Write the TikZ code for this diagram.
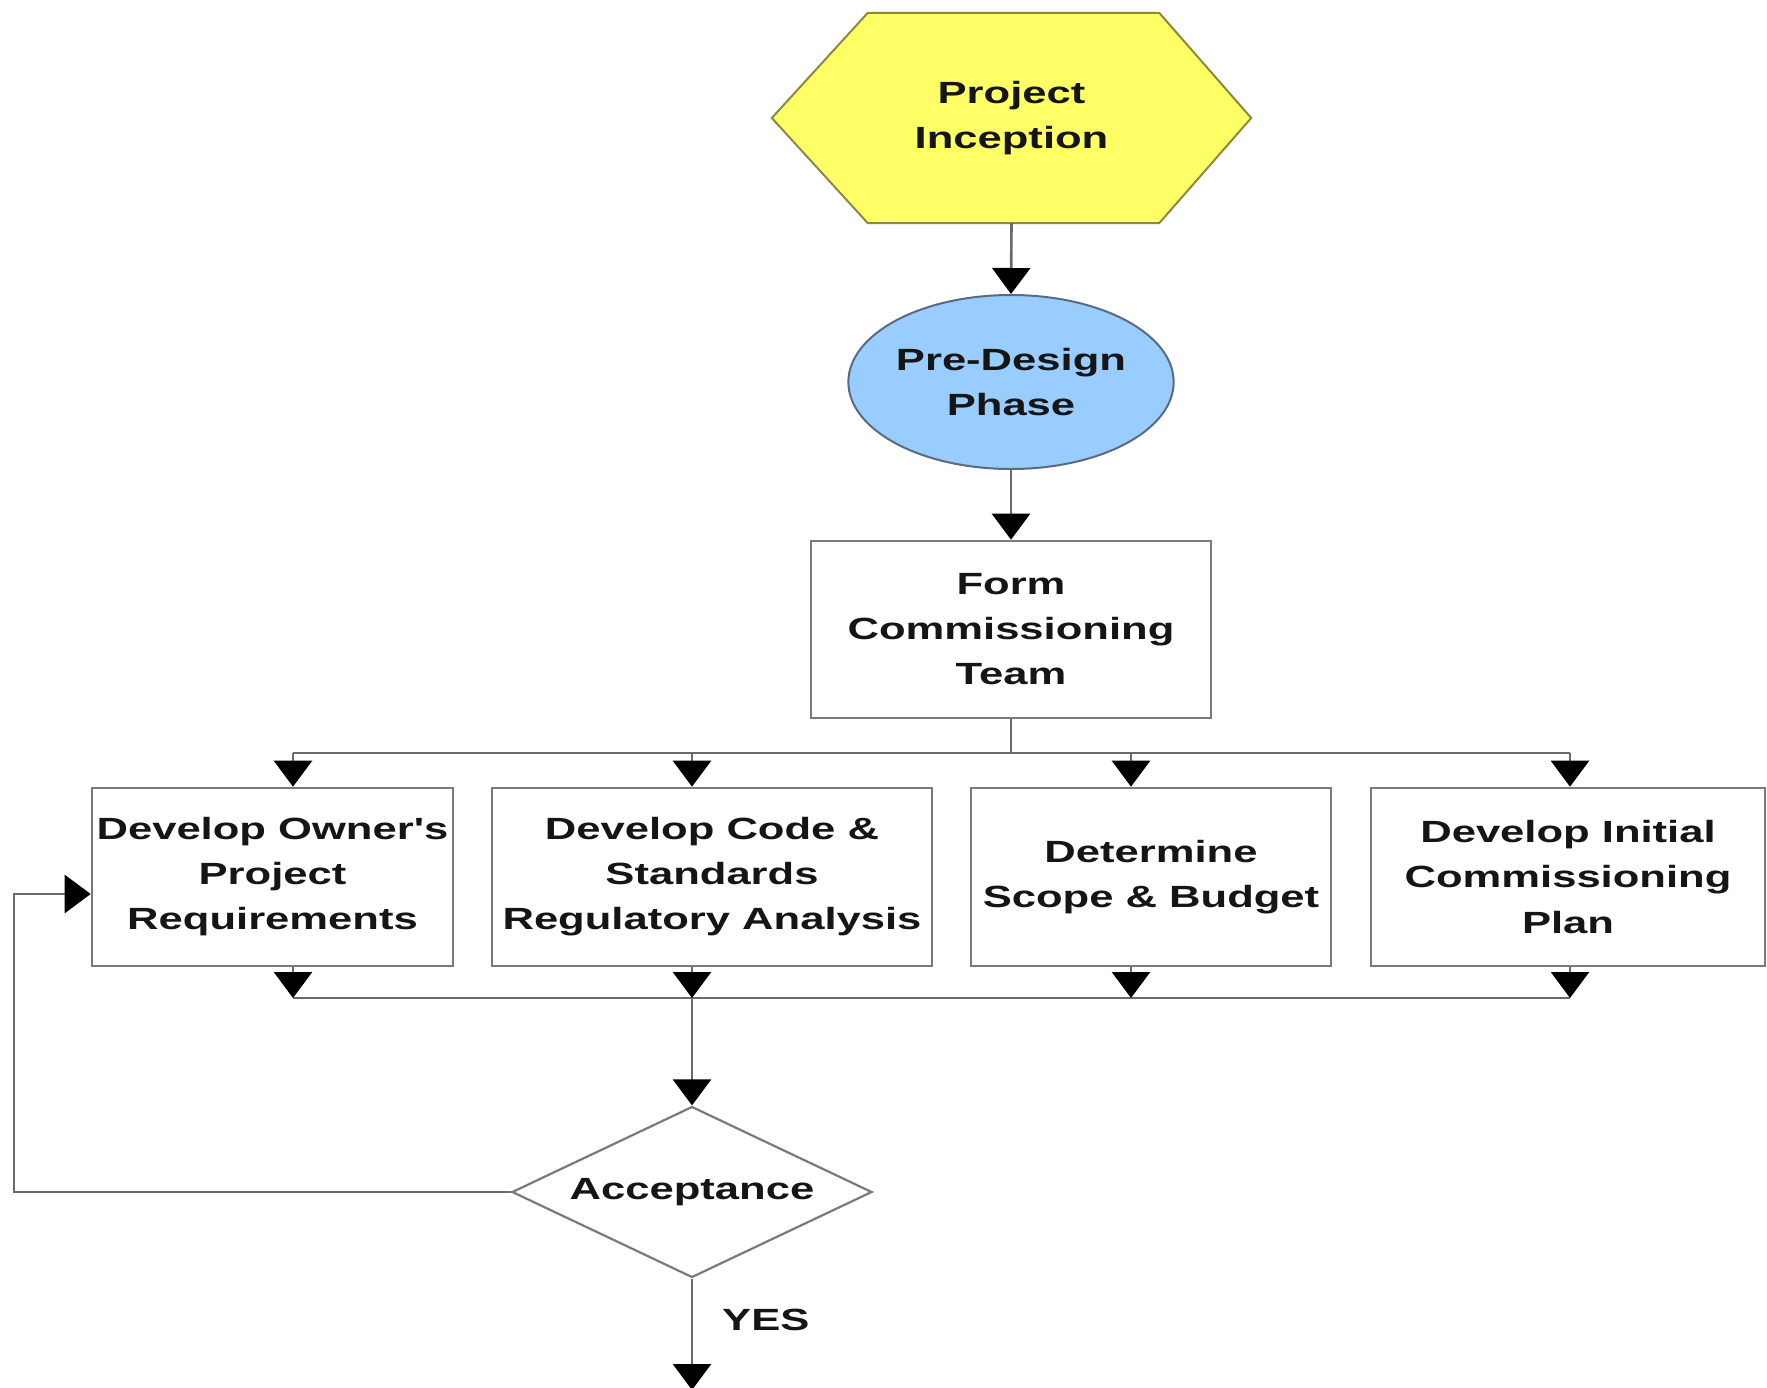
\documentclass[tikz,border=0pt]{standalone}
\usepackage{fontspec}
\newfontfamily\widesans{Liberation Sans}[FakeStretch=1.42]
\usetikzlibrary{arrows.meta,shapes.geometric}
\pgfdeclarelayer{background}
\pgfsetlayers{background,main}
\definecolor{hexfill}{HTML}{FFFF66}
\definecolor{hexline}{HTML}{8A8A40}
\definecolor{ellfill}{HTML}{99CCFF}
\definecolor{ellline}{HTML}{5A6A80}
\definecolor{boxline}{HTML}{7A7A7A}
\definecolor{conline}{HTML}{6A6A6A}
\definecolor{txt}{HTML}{151515}
\tikzset{
  lbl/.style={font=\widesans\bfseries\fontsize{30.8}{45.2}\selectfont, text=txt, align=center, inner sep=0pt},
  stepbox/.style={lbl, draw=boxline, line width=2.6bp, fill=white},
  con/.style={draw=conline, line width=2.6bp},
  arr/.style={con, -{Triangle[width=38bp,length=26bp,color=black]}},
}
\begin{document}
\begin{tikzpicture}[x=1bp,y=-1bp]
\useasboundingbox (0,0) rectangle (1767,1388);

% Project Inception (hexagon)
\node[lbl, minimum width=479bp, minimum height=210bp] (hex) at (1011.5,118) {Project\\Inception};
\begin{pgfonlayer}{background}
\filldraw[fill=hexfill, draw=hexline, line width=2bp]
  (hex.west) -- ([xshift=96bp]hex.north west) -- ([xshift=-92bp]hex.north east)
  -- (hex.east) -- ([xshift=-92bp]hex.south east) -- ([xshift=96bp]hex.south west) -- cycle;
\end{pgfonlayer}

% Pre-Design Phase (ellipse)
\node[lbl, ellipse, draw=ellline, fill=ellfill, line width=2bp,
      minimum width=321bp, minimum height=174bp] (pre) at (1011,382) {Pre-Design\\Phase};

% Form Commissioning Team
\node[stepbox, minimum width=400bp, minimum height=177bp] (form) at (1011,629.5) {Form\\Commissioning\\Team};

% Four task boxes
\node[stepbox, minimum width=361bp, minimum height=178bp] (b1) at (272.5,877) {Develop Owner's\\Project\\Requirements};
\node[stepbox, minimum width=440bp, minimum height=178bp] (b2) at (712,877) {Develop Code \&\\Standards\\Regulatory Analysis};
\node[stepbox, minimum width=360bp, minimum height=178bp] (b3) at (1151,877) {Determine\\Scope \& Budget};
\node[stepbox, minimum width=394bp, minimum height=178bp] (b4) at (1568,877) {Develop Initial\\Commissioning\\Plan};

% Acceptance (diamond)
\node[lbl, diamond, aspect=2.1, draw=boxline, line width=2.2bp, fill=white,
      minimum width=360bp, minimum height=171bp] (acc) at (692,1192) {Acceptance};

% YES label
\node[lbl, anchor=west] (yes) at (722,1320) {YES};

% Top connectors
\draw[arr] (hex.south) -- (pre.north);
\draw[arr] (pre.south) -- (form.north);

% Upper bus
\coordinate (u0) at (1011,753);
\coordinate (u1) at (293,753);
\coordinate (u2) at (692,753);
\coordinate (u3) at (1131,753);
\coordinate (u4) at (1570,753);
\draw[con] (form.south) -- (u0);
\draw[con] (u1) -- (u4);
\draw[arr] (u1) -- (u1 |- b1.north);
\draw[arr] (u2) -- (u2 |- b2.north);
\draw[arr] (u3) -- (u3 |- b3.north);
\draw[arr] (u4) -- (u4 |- b4.north);

% Lower bus
\coordinate (d1) at (293,998);
\coordinate (d2) at (692,998);
\coordinate (d3) at (1131,998);
\coordinate (d4) at (1570,998);
\draw[con] (d1) -- (d4);
\draw[arr] (d1 |- b1.south) -- (d1);
\draw[arr] (d2 |- b2.south) -- (d2);
\draw[arr] (d3 |- b3.south) -- (d3);
\draw[arr] (d4 |- b4.south) -- (d4);

% To acceptance
\draw[arr] (d2) -- (d2 |- acc.north);

% Feedback loop
\coordinate (fb) at (14,894);
\draw[arr] (acc.west) -| (fb) -- (fb -| b1.west);

% YES exit
\coordinate (out) at (692,1390);
\draw[arr] (acc.south) -- (out);
\end{tikzpicture}
\end{document}
